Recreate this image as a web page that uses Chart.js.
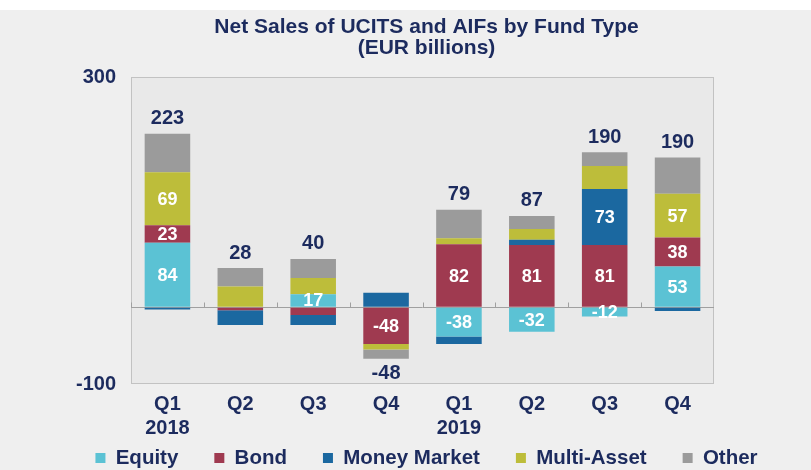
<!DOCTYPE html>
<html>
<head>
<meta charset="utf-8">
<script src="https://cdn.jsdelivr.net/npm/chart.js"></script>
<style>
  body { margin: 0; background: #ffffff; }
  #grafico { display: block; background: linear-gradient(#ffffff 0 10px, #efefef 10px); }
</style>
</head>
<body>
<canvas id="grafico" width="811" height="470"></canvas>
<script>
// Datos (EUR miles de millones)
const trimestres = [['Q1', '2018'], 'Q2', 'Q3', 'Q4', ['Q1', '2019'], 'Q2', 'Q3', 'Q4']
const equity      = [84, 0, 17, 0, -38, -32, -12, 53]
const bond        = [23, -4, -10, -48, 82, 81, 81, 38]
const moneyMarket = [-3, -19, -13, 19, -10, 7, 73, -5]
const multiAsset  = [69, 27, 21, -7, 8, 14, 30, 57]
const other       = [50, 24, 25, -12, 37, 17, 18, 47]
const ticksEje    = [300, -100]

// indices con etiqueta blanca dentro del segmento
const etiquetasEquity = [0, 2, 4, 5, 6, 7]
const etiquetasBond   = [0, 3, 4, 5, 6, 7]
const etiquetasMM     = [6]
const etiquetasMulti  = [0, 7]
const etiquetasOther  = []

const azul = '#1c2b5e'
const fuente = '"Liberation Sans", Arial, sans-serif'

//Fondo y borde del area del grafico
const fondoPlot = {
    id: 'fondoPlot',
    beforeDraw(chart) {
        const { ctx, chartArea: a } = chart
        ctx.save()
        ctx.fillStyle = '#e9e9e9'
        ctx.fillRect(a.left, a.top, a.width, a.height)
        ctx.strokeStyle = '#c2c2c2'
        ctx.lineWidth = 1
        ctx.strokeRect(a.left + 0.5, a.top + 0.5, a.width - 1, a.height - 1)
        ctx.restore()
    },
    beforeDatasetsDraw(chart) {
        // marcas pequenas sobre la linea de cero
        const { ctx, scales: { x, y } } = chart
        const y0 = Math.round(y.getPixelForValue(0)) + 0.5
        const paso = x.getPixelForValue(1) - x.getPixelForValue(0)
        ctx.save()
        ctx.strokeStyle = '#a0a0a0'
        ctx.lineWidth = 1
        for (let i = 0; i < trimestres.length; i++) {
            const px = Math.round(x.getPixelForValue(i) - paso / 2) + 0.5
            ctx.beginPath()
            ctx.moveTo(px, y0)
            ctx.lineTo(px, y0 - 5)
            ctx.stroke()
        }
        ctx.restore()
    }
}

//Etiquetas de segmentos y totales
const etiquetas = {
    id: 'etiquetas',
    afterDatasetsDraw(chart) {
        const { ctx, scales: { y } } = chart
        const listas = [etiquetasEquity, etiquetasBond, etiquetasMM, etiquetasMulti, etiquetasOther]
        ctx.save()
        ctx.textAlign = 'center'
        ctx.textBaseline = 'middle'
        ctx.fillStyle = '#ffffff'
        ctx.font = 'bold 18px ' + fuente
        chart.data.datasets.forEach((ds, d) => {
            const meta = chart.getDatasetMeta(d)
            listas[d].forEach(i => {
                const el = meta.data[i]
                ctx.fillText(String(ds.data[i]), el.x, (el.y + el.base) / 2 + 1)
            })
        })
        ctx.fillStyle = azul
        ctx.font = 'bold 20px ' + fuente
        trimestres.forEach((t, i) => {
            let pos = 0, neg = 0
            chart.data.datasets.forEach(ds => {
                if (ds.data[i] > 0) pos += ds.data[i]
                else neg += ds.data[i]
            })
            const total = pos + neg
            const x = chart.getDatasetMeta(0).data[i].x
            if (total >= 0) {
                ctx.fillText(String(total), x, y.getPixelForValue(pos) - 15)
            } else {
                ctx.fillText(String(total), x, y.getPixelForValue(neg) + 15)
            }
        })
        ctx.restore()
    }
}

new Chart(document.getElementById('grafico'), {
    type: 'bar',
    data: {
        labels: trimestres,
        datasets: [
            { label: 'Equity', data: equity, backgroundColor: '#5bc2d4' },
            { label: 'Bond', data: bond, backgroundColor: '#9f3a50' },
            { label: 'Money Market', data: moneyMarket, backgroundColor: '#1b68a0' },
            { label: 'Multi-Asset', data: multiAsset, backgroundColor: '#bdbd3a' },
            { label: 'Other', data: other, backgroundColor: '#9b9b9b' }
        ]
    },
    options: {
        responsive: false,
        animation: false,
        layout: { padding: { left: 42, right: 0, top: 0, bottom: 0 } },
        datasets: { bar: { categoryPercentage: 1, barPercentage: 0.625, borderWidth: 0 } },
        plugins: {
            tooltip: { enabled: false },
            title: {
                display: true,
                text: ['Net Sales of UCITS and AIFs by Fund Type', '(EUR billions)'],
                color: azul,
                font: { family: fuente, size: 21, weight: 'bold', lineHeight: 1.0 },
                padding: { top: 16.5, bottom: 18.5 }
            },
            legend: {
                position: 'bottom',
                maxHeight: 58.25,
                labels: {
                    color: azul,
                    font: { family: fuente, size: 20.5, weight: 'bold' },
                    boxWidth: 10,
                    boxHeight: 10,
                    padding: 36
                }
            }
        },
        scales: {
            x: {
                stacked: true,
                grid: { display: false },
                border: { display: false },
                ticks: {
                    color: azul,
                    padding: 0,
                    maxRotation: 0,
                    font: { family: fuente, size: 20, weight: 'bold', lineHeight: 1.2 }
                },
                afterFit(scale) {
                    scale.height = 27.75
                    // las etiquetas de dos lineas pasan del alto del eje: sin recorte
                    scale._computeLabelArea = () => null
                }
            },
            y: {
                stacked: true,
                min: -100,
                max: 300,
                grid: {
                    drawTicks: false,
                    color: c => c.tick.value === 0 ? '#a0a0a0' : 'rgba(0,0,0,0)'
                },
                border: { display: false },
                ticks: {
                    stepSize: 100,
                    padding: 15,
                    color: azul,
                    font: { family: fuente, size: 20, weight: 'bold' },
                    callback: v => ticksEje.includes(v) ? String(v) : ''
                },
                afterFit(scale) { scale.width = 89 }
            },
            y2: {
                position: 'right',
                min: -100,
                max: 300,
                grid: { display: false },
                border: { display: false },
                ticks: { display: false },
                afterFit(scale) { scale.width = 97 }
            }
        }
    },
    plugins: [fondoPlot, etiquetas]
})
</script>
</body>
</html>
